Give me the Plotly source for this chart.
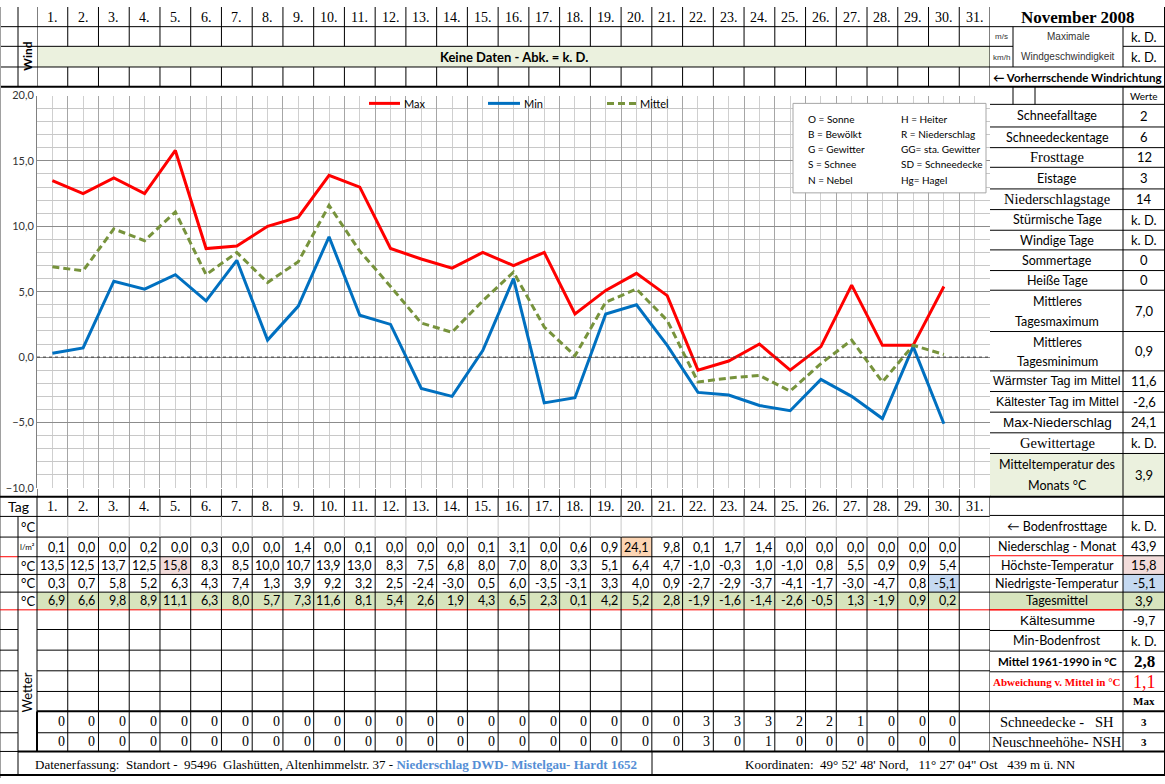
import plotly.graph_objects as go

W, H = 1165, 784

# ---------------- data ----------------
days = list(range(1, 31))
day_labels = ["1.", "2.", "3.", "4.", "5.", "6.", "7.", "8.", "9.", "10.", "11.", "12.", "13.", "14.", "15.", "16.",
              "17.", "18.", "19.", "20.", "21.", "22.", "23.", "24.", "25.", "26.", "27.", "28.", "29.", "30.", "31."]
t_max = [13.5, 12.5, 13.7, 12.5, 15.8, 8.3, 8.5, 10.0, 10.7, 13.9, 13.0, 8.3, 7.5, 6.8, 8.0,
         7.0, 8.0, 3.3, 5.1, 6.4, 4.7, -1.0, -0.3, 1.0, -1.0, 0.8, 5.5, 0.9, 0.9, 5.4]
t_min = [0.3, 0.7, 5.8, 5.2, 6.3, 4.3, 7.4, 1.3, 3.9, 9.2, 3.2, 2.5, -2.4, -3.0, 0.5,
         6.0, -3.5, -3.1, 3.3, 4.0, 0.9, -2.7, -2.9, -3.7, -4.1, -1.7, -3.0, -4.7, 0.8, -5.1]
t_mean = [6.9, 6.6, 9.8, 8.9, 11.1, 6.3, 8.0, 5.7, 7.3, 11.6, 8.1, 5.4, 2.6, 1.9, 4.3,
          6.5, 2.3, 0.1, 4.2, 5.2, 2.8, -1.9, -1.6, -1.4, -2.6, -0.5, 1.3, -1.9, 0.9, 0.2]
precip = [0.1, 0.0, 0.0, 0.2, 0.0, 0.3, 0.0, 0.0, 1.4, 0.0, 0.1, 0.0, 0.0, 0.0, 0.1,
          3.1, 0.0, 0.6, 0.9, 24.1, 9.8, 0.1, 1.7, 1.4, 0.0, 0.0, 0.0, 0.0, 0.0, 0.0]
snow_sh = [0, 0, 0, 0, 0, 0, 0, 0, 0, 0, 0, 0, 0, 0, 0, 0, 0, 0, 0, 0, 0, 3, 3, 3, 2, 2, 1, 0, 0, 0]
snow_nsh = [0, 0, 0, 0, 0, 0, 0, 0, 0, 0, 0, 0, 0, 0, 0, 0, 0, 0, 0, 0, 0, 3, 0, 1, 0, 0, 0, 0, 0, 0]

y_ticks = [-10, -5, 0, 5, 10, 15, 20]

stats_labels = ["Schneefalltage", "Schneedeckentage", "Frosttage", "Eistage", "Niederschlagstage",
                "Stürmische Tage", "Windige Tage", "Sommertage", "Heiße Tage", "Mittleres|Tagesmaximum",
                "Mittleres|Tagesminimum", "Wärmster Tag im Mittel", "Kältester Tag im Mittel",
                "Max-Niederschlag", "Gewittertage", "Mitteltemperatur des|Monats °C"]
stats_values = ["2", "6", "12", "3", "14", "k. D.", "k. D.", "0", "0", "7,0", "0,9", "11,6", "-2,6",
                "24,1", "k. D.", "3,9"]
stats_fonts = ["c", "c", "s", "c", "s", "c", "c", "c", "c", "c", "c", "a", "a", "a", "s", "c"]

br_labels = ["", "← Bodenfrosttage", "Niederschlag - Monat", "Höchste-Temperatur", "Niedrigste-Temperatur",
             "Tagesmittel", "Kältesumme", "Min-Bodenfrost", "Mittel 1961-1990 in °C",
             "Abweichung v. Mittel in °C", "", "Schneedecke -\u00a0\u00a0\u00a0SH", "Neuschneehöhe- NSH"]
br_values = ["", "k. D.", "43,9", "15,8", "-5,1", "3,9", "-9,7", "k. D.", "2,8", "1,1", "Max", "3", "3"]

codes_left = ["O = Sonne", "B = Bewölkt", "G = Gewitter", "S = Schnee", "N = Nebel"]
codes_right = ["H = Heiter", "R = Niederschlag", "GG= sta. Gewitter", "SD = Schneedecke", "Hg= Hagel"]

# ---------------- helpers ----------------
LATO = "Lato, Carlito, Calibri, sans-serif"
SERIF = "Liberation Serif, Times New Roman, serif"
ARIAL = "Liberation Sans, Arial, sans-serif"
FONTS = {"c": LATO, "s": SERIF, "a": ARIAL}

shapes = []
anns = []


def X(p):
    return p / W


def Y(p):
    return 1 - p / H


def hl(y, x0, x1, color="#000", w=1, xref="paper"):
    if xref == "paper":
        x0, x1 = X(x0), X(x1)
    shapes.append(dict(type="line", xref=xref, yref="paper", x0=x0, x1=x1, y0=Y(y), y1=Y(y),
                       line=dict(color=color, width=w)))


def vl(x, y0, y1, color="#000", w=1, xref="paper"):
    if xref == "paper":
        x = X(x)
    shapes.append(dict(type="line", xref=xref, yref="paper", x0=x, x1=x, y0=Y(y0), y1=Y(y1),
                       line=dict(color=color, width=w)))


def rect(x0, x1, y0, y1, fill, xref="paper", lc=None):
    if xref == "paper":
        x0, x1 = X(x0), X(x1)
    shapes.append(dict(type="rect", xref=xref, yref="paper", x0=x0, x1=x1, y0=Y(y1), y1=Y(y0),
                       fillcolor=fill, line=dict(width=1 if lc else 0, color=lc or fill)))


def txt(x, y, s, size=13, family=LATO, color="#000", xanchor="center", xref="paper", angle=0, xshift=0):
    if xref == "paper":
        x = X(x)
    anns.append(dict(x=x, y=Y(y), xref=xref, yref="paper", text=s, showarrow=False,
                     font=dict(size=size, family=family, color=color), xanchor=xanchor,
                     yanchor="middle", textangle=angle, xshift=xshift))


def fmt(v):
    return f"{v:.1f}".replace(".", ",")


bounds = [k + 0.5 for k in range(0, 32)]   # column boundaries in axis units (0.5 .. 31.5)

# ---------------- fills ----------------
rect(0.5, 31.5, 40, 61, "#ebf1de", xref="x")                     # Keine Daten band
rect(990, 1165, 454, 497, "#ebf1de")                              # Mitteltemperatur
for d in days:
    rect(d - 0.5, d + 0.5, 595, 613, "#d7e4bd", xref="x")         # Tagesmittel row
i_p = precip.index(max(precip)) + 1
i_x = t_max.index(max(t_max)) + 1
i_n = t_min.index(min(t_min)) + 1
rect(i_p - 0.5, i_p + 0.5, 539, 559, "#fcd5b4", xref="x")
rect(i_x - 0.5, i_x + 0.5, 559, 577, "#f2dcdb", xref="x")
rect(i_n - 0.5, i_n + 0.5, 577, 595, "#c5d9f1", xref="x")
rect(990, 1165, 595, 613, "#d7e4bd")
rect(1123, 1165, 558, 577, "#f2dcdb")
rect(1123, 1165, 577, 595, "#c5d9f1")

# ---------------- header grid (0-81) ----------------
hl(20, 0, 1165)
hl(40, 0, 990)
hl(40, 990, 1013)
hl(40, 1123, 1165)
hl(61, 0, 1165)
hl(81, 0, 1165, w=2)
vl(18, 0, 81)
for k, b in enumerate(bounds):
    if k in (0, 31):
        vl(b, 0, 81, xref="x")
    else:
        vl(b, 0, 40, xref="x")
        vl(b, 61, 81, xref="x")
vl(1013, 20, 61)
vl(1123, 20, 61)
vl(1164.5, 0, 781)
vl(0.5, 0, 784, color="#a0a0a0")

for i, lab in enumerate(day_labels):
    txt(i + 1, 11, lab, size=14, family=SERIF, xref="x")
txt(27.5, 50, "<b>Wind</b>", size=12, angle=-90)
txt(0.5 + 31 / 2, 51, "<b>Keine Daten - Abk. = k. D.</b>", size=13, xref="x")
txt(1077, 11, "<b>November 2008</b>", size=17, family=SERIF)
txt(1001, 30, "m/s", size=8, family=ARIAL, color="#333")
txt(1001, 51, "km/h", size=8, family=ARIAL, color="#333")
txt(1068, 30, "Maximale", size=10, family=ARIAL, color="#333")
txt(1068, 50, "Windgeschwindigkeit", size=10, family=ARIAL, color="#333")
txt(1144, 30, "k. D.", size=13)
txt(1144, 51, "k. D.", size=13)
txt(1077, 72, "<b>← Vorherrschende Windrichtung</b>", size=11.5)

# ---------------- right panel (81-497) ----------------
rp_edges = [81, 99, 122, 143, 163, 185, 206, 227, 247, 268, 288, 330, 370, 391, 412, 433, 454, 497]
for e in rp_edges[1:-1]:
    hl(e, 990, 1165)
vl(1123, 81, 757)
vl(1013, 81, 99)
vl(1035, 81, 99)
txt(1144, 90, "Werte", size=10)
for i, lab in enumerate(stats_labels):
    y0, y1 = rp_edges[i + 1], rp_edges[i + 2]
    fam = FONTS[stats_fonts[i]]
    size = 14.5 if stats_fonts[i] == "s" else 12.5
    if lab == "Max-Niederschlag":
        size = 13.5
    parts = lab.split("|")
    if len(parts) == 1:
        txt(1057, (y0 + y1) / 2, parts[0], size=size, family=fam)
    else:
        txt(1057, y0 + 11, parts[0], size=size, family=fam)
        txt(1057, y1 - 10, parts[1], size=size, family=fam)
    txt(1144, (y0 + y1) / 2, stats_values[i], size=13)

# ---------------- bottom table (498-781) ----------------
hl(498, 0, 1165, w=2)
hl(518, 0, 990)
hl(539, 18, 990)
hl(539, 0, 18)
hl(559, 18, 990)
hl(559, 0, 18, color="#ff0000")
hl(577, 0, 990)
hl(595, 0, 990)
hl(613, 0, 1123, color="#ff0000")
for e in [633, 654, 675, 696]:
    hl(e, 0, 18)
    hl(e, 37, 990)
hl(716, 0, 18)
hl(716, 37, 1165, w=2)
hl(738, 0, 18)
hl(738, 37, 990)
hl(757, 0, 18)
hl(757, 18, 1165, w=2)
hl(781, 0, 1165, w=2)
vl(18, 518, 781)
vl(37, 498, 716)
vl(37, 716, 757, w=2)
for k, b in enumerate(bounds[1:], start=1):
    vl(b, 498, 518, xref="x")
    vl(b, 518, 539, color="#c8c8c8", xref="x")
    vl(b, 539, 757, xref="x")
vl(652, 757, 781)

# right panel bottom
br_edges = [497, 517, 539, 558, 577, 595, 613, 634, 655, 676, 696, 716, 738, 757]
for e in br_edges[1:-1]:
    if e == 716:
        continue
    col = "#ff0000" if e in (558, 613) else "#000"
    hl(e, 990, 1123, color=col)
    hl(e, 1123, 1165)

txt(18.5, 508, "Tag", size=14)
for i, lab in enumerate(day_labels):
    txt(i + 1, 508, lab, size=14, family=SERIF, xref="x")
txt(27.5, 529, "°C", size=13)
txt(27.5, 549, "l/m²", size=8)
txt(27.5, 568, "°C", size=13)
txt(27.5, 586, "°C", size=13)
txt(27.5, 604, "°C", size=13)
txt(27, 697, "Wetter", size=13, angle=-90)

for i, d in enumerate(days):
    txt(d + 0.5, 550, fmt(precip[i]), size=12.5, xanchor="right", xref="x", xshift=-1)
    txt(d + 0.5, 568, fmt(t_max[i]), size=12.5, xanchor="right", xref="x", xshift=-1)
    txt(d + 0.5, 586, fmt(t_min[i]), size=12.5, xanchor="right", xref="x", xshift=-1)
    txt(d + 0.5, 604, fmt(t_mean[i]), size=12.5, xanchor="right", xref="x", xshift=-1)
    txt(d + 0.5, 727, str(snow_sh[i]), size=14, family=SERIF, xanchor="right", xref="x", xshift=-1)
    txt(d + 0.5, 747, str(snow_nsh[i]), size=14, family=SERIF, xanchor="right", xref="x", xshift=-1)

br_style = {
    6: dict(size=13.5, family=ARIAL),
    8: dict(size=11.5, family=LATO),
    9: dict(size=11, family=SERIF, color="#ff0000"),
    11: dict(size=14.5, family=SERIF),
    12: dict(size=14.5, family=SERIF),
}
val_style = {
    6: dict(size=13, family=ARIAL),
    8: dict(size=17, family=SERIF),
    9: dict(size=18, family=SERIF, color="#ff0000"),
    10: dict(size=11, family=SERIF),
    11: dict(size=11, family=SERIF),
    12: dict(size=11, family=SERIF),
}
for i in range(len(br_labels)):
    yc = (br_edges[i] + br_edges[i + 1]) / 2
    if br_labels[i]:
        st = br_style.get(i, {})
        s = br_labels[i]
        if i in (8, 9):
            s = "<b>" + s + "</b>"
        txt(1057, yc, s, size=st.get("size", 12.5), family=st.get("family", LATO), color=st.get("color", "#000"))
    if br_values[i]:
        st = val_style.get(i, dict(size=13, family=LATO))
        s = br_values[i]
        if i in (8, 10, 11, 12):
            s = "<b>" + s + "</b>"
        txt(1144, yc, s, size=st["size"], family=st["family"], color=st.get("color", "#000"))

txt(33, 770, "Datenerfassung:\u00a0 Standort -\u00a0 95496\u00a0 Glashütten, Altenhimmelstr. 37 - "
    "<span style='color:#558ed5'><b>Niederschlag DWD- Mistelgau- Hardt 1652</b></span>",
    size=13, family=SERIF, xanchor="left")
txt(910, 770, "Koordinaten:\u00a0 49° 52' 48' Nord,\u00a0\u00a0 11° 27' 04\" Ost\u00a0\u00a0 439 m ü. NN",
    size=13, family=SERIF)

# ---------------- chart legend ----------------
leg = [("Max", "#ff0000", "solid", 369, 400), ("Min", "#0070c0", "solid", 488, 520),
       ("Mittel", "#77933c", "7px,4px", 607, 636)]
for name, col, dash, a, b in leg:
    shapes.append(dict(type="line", xref="paper", yref="paper", x0=X(a), x1=X(b), y0=Y(98), y1=Y(98),
                       line=dict(color=col, width=3, dash=dash)))
    txt(b + 2, 98, name, size=11, xanchor="left")

# weather codes box
rect(793, 986, 98, 189, "#ffffff", lc="#a6a6a6")
code_y = [114, 129, 144, 160, 176]
for i in range(5):
    txt(806, code_y[i], codes_left[i], size=10, xanchor="left")
    txt(899, code_y[i], codes_right[i], size=10, xanchor="left")

# zero line (dotted)
shapes.append(dict(type="line", xref="paper", yref="y", x0=X(37), x1=X(990), y0=0, y1=0,
                   line=dict(color="#404040", width=1, dash="dot")))

# ---------------- figure ----------------
fig = go.Figure()
fig.add_trace(go.Scatter(x=days, y=t_max, mode="lines", name="Max", line=dict(color="#ff0000", width=3)))
fig.add_trace(go.Scatter(x=days, y=t_min, mode="lines", name="Min", line=dict(color="#0070c0", width=3)))
fig.add_trace(go.Scatter(x=days, y=t_mean, mode="lines", name="Mittel",
                         line=dict(color="#77933c", width=3, dash="7px,4px")))

fig.update_layout(
    width=W, height=H, margin=dict(l=0, r=0, t=0, b=0), autosize=False,
    paper_bgcolor="#ffffff", plot_bgcolor="#ffffff", showlegend=False, separators=",.",
    shapes=shapes, annotations=anns,
    xaxis=dict(domain=[X(37), X(990)], range=[0.5, 31.5], tickmode="array", tickvals=bounds,
               showticklabels=False, showgrid=True, gridcolor="#a6a6a6", gridwidth=1, zeroline=False,
               ticks="outside", ticklen=8, tickcolor="#808080",
               minor=dict(tickvals=list(range(1, 32)), showgrid=True, gridcolor="#cfcfcf")),
    yaxis=dict(domain=[Y(489), Y(90)], range=[-10, 20], tickmode="array", tickvals=y_ticks,
               tickformat=".1f", showgrid=True, gridcolor="#8c8c8c", zeroline=False,
               showline=True, linecolor="#808080", ticks="",
               tickfont=dict(family=LATO, size=11, color="#333"),
               minor=dict(dtick=1, showgrid=True, gridcolor="#c8c8c8")),
)

fig.write_html("out.html", config={"displayModeBar": False},
               post_script="document.body.style.margin='0';document.body.style.padding='0';")
